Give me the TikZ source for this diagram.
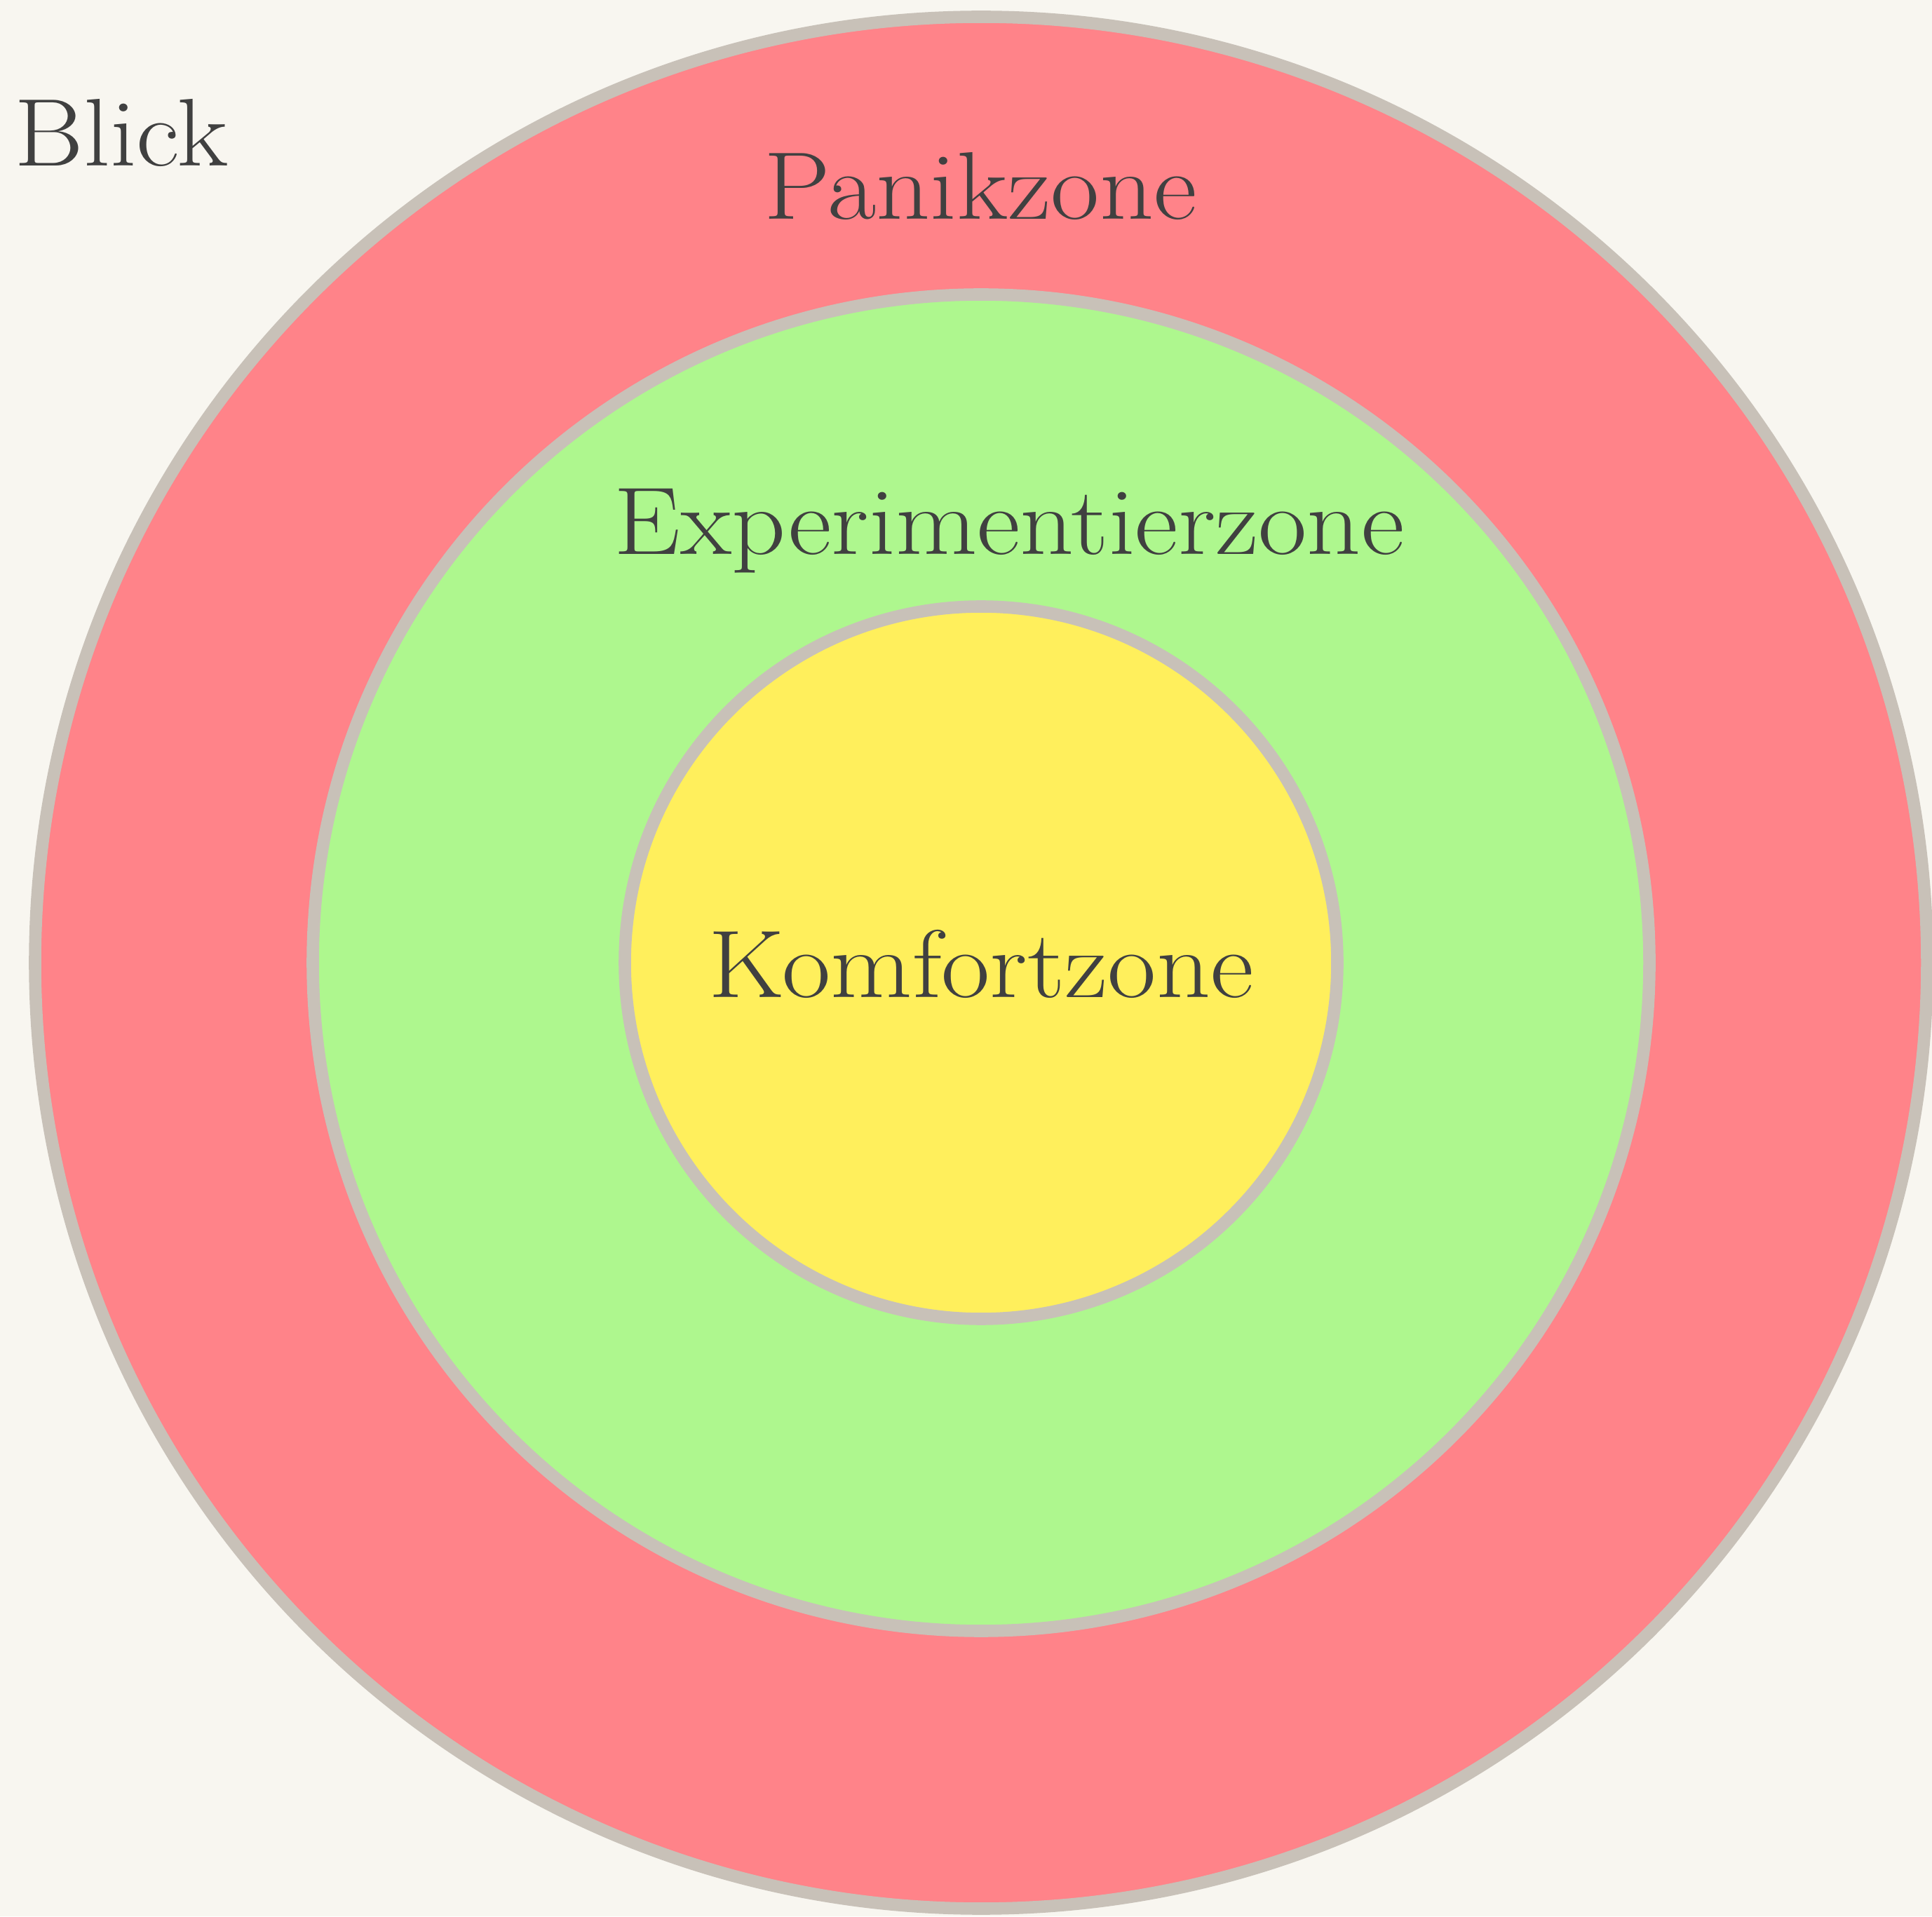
\documentclass[tikz,border=0pt]{standalone}
\usepackage{tikz}
\usepackage{graphicx}
\usetikzlibrary{calc}
\definecolor{paper}{HTML}{F8F6F0}
\definecolor{rim}{HTML}{C8C1B8}
\definecolor{panikred}{HTML}{FF8389}
\definecolor{experimentgreen}{HTML}{AEF78E}
\definecolor{komfortyellow}{HTML}{FFEF5C}
\definecolor{ink}{HTML}{404040}
\tikzset{
  zoneline/.style={draw=rim, line width=5pt},
  zonelabel/.style={text=ink, anchor=base, inner sep=0pt, font=\fontsize{39}{47}\selectfont}
}
\newcommand{\zone}[2]{\draw[zoneline, fill=#1] (mid) circle (#2);}
\newcommand{\widetext}[1]{\scalebox{1.1}[1]{#1}}

\begin{document}
\begin{tikzpicture}
        \useasboundingbox (0,0) rectangle (27.55,27.33);
        \fill[paper] (0,0) rectangle (27.55,27.33);
        \coordinate (mid) at (13.99,13.60);
        % rings, outside in
        \zone{panikred}{13.49}
        \zone{experimentgreen}{9.53}
        \zone{komfortyellow}{5.08}
        % labels
        \node[zonelabel, anchor=base west] (blick) at (0.2,24.96) {\widetext{Blick}};
        \node[zonelabel] (panik) at (13.98,24.20) {\widetext{Panikzone}};
        \node[zonelabel] (experiment) at (14.39,19.42) {\widetext{Experimentierzone}};
        \node[zonelabel] (komfort) at (13.99,13.10) {\widetext{Komfortzone}};
\end{tikzpicture}
\end{document}
